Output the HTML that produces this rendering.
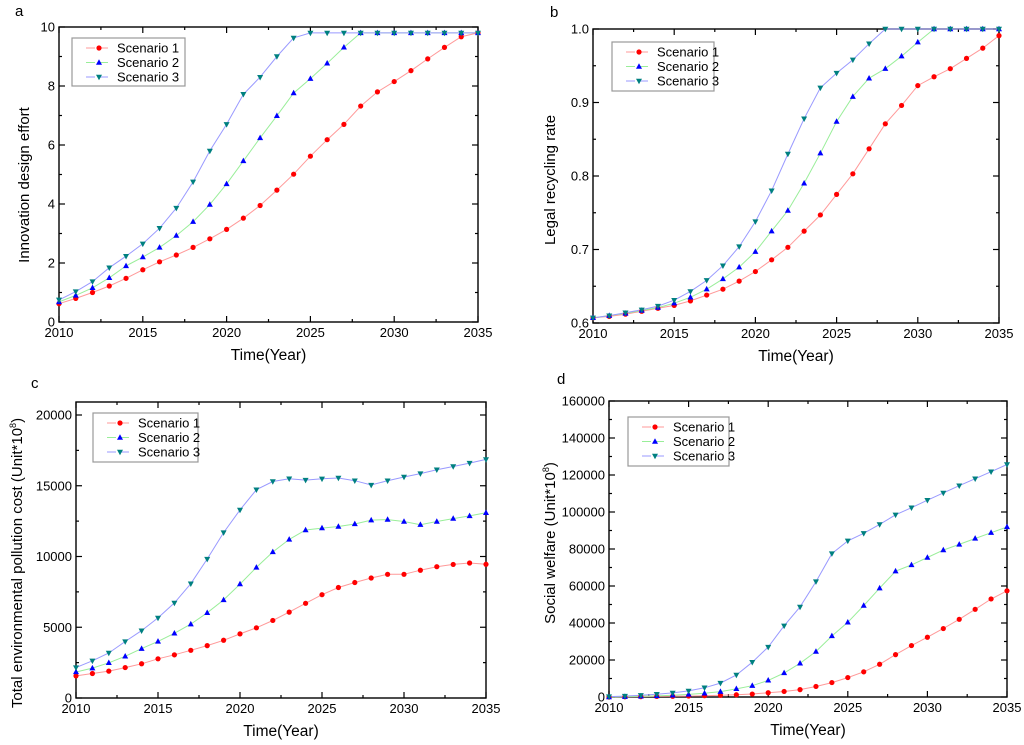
<!DOCTYPE html>
<html><head><meta charset="utf-8"><style>
html,body{margin:0;padding:0;background:#fff;}
svg{display:block;font-family:"Liberation Sans",Arial,sans-serif;}
</style></head><body>
<svg id="chart" width="1024" height="745" viewBox="0 0 1024 745"></svg>
<script>
const years = [2010,2011,2012,2013,2014,2015,2016,2017,2018,2019,2020,2021,2022,2023,2024,2025,2026,2027,2028,2029,2030,2031,2032,2033,2034,2035];
const seriesNames = ["Scenario 1","Scenario 2","Scenario 3"];
const xTicks = [2010,2015,2020,2025,2030,2035];

const aS1 = [0.62,0.8,1.0,1.22,1.48,1.77,2.04,2.27,2.53,2.82,3.14,3.52,3.95,4.47,5.01,5.62,6.18,6.7,7.32,7.8,8.15,8.52,8.92,9.31,9.67,9.8];
const aS2 = [0.68,0.9,1.16,1.5,1.9,2.2,2.53,2.93,3.4,3.98,4.68,5.46,6.24,6.99,7.76,8.25,8.77,9.31,9.8,9.8,9.8,9.8,9.8,9.8,9.8,9.8];
const aS3 = [0.75,1.03,1.37,1.84,2.23,2.65,3.18,3.86,4.75,5.8,6.7,7.72,8.3,9.0,9.63,9.8,9.8,9.8,9.8,9.8,9.8,9.8,9.8,9.8,9.8,9.8];
const aTicks = [0,2,4,6,8,10];

const bS1 = [0.607,0.609,0.612,0.616,0.62,0.624,0.63,0.638,0.646,0.657,0.67,0.686,0.703,0.725,0.747,0.775,0.803,0.837,0.871,0.896,0.923,0.935,0.946,0.96,0.974,0.991];
const bS2 = [0.607,0.61,0.613,0.617,0.621,0.627,0.635,0.646,0.66,0.676,0.697,0.725,0.753,0.79,0.831,0.874,0.908,0.933,0.946,0.963,0.982,1.0,1.0,1.0,1.0,1.0];
const bS3 = [0.607,0.61,0.614,0.618,0.623,0.631,0.643,0.658,0.678,0.704,0.738,0.78,0.83,0.878,0.92,0.94,0.958,0.98,1.0,1.0,1.0,1.0,1.0,1.0,1.0,1.0];
const bTicks = ["0.6","0.7","0.8","0.9","1.0"];

const cS1 = [1560,1730,1900,2150,2420,2770,3050,3370,3700,4080,4530,4960,5480,6070,6690,7300,7810,8160,8480,8740,8740,9030,9280,9440,9540,9450];
const cS2 = [1840,2110,2490,2950,3490,4000,4570,5220,6020,6930,8050,9230,10320,11210,11870,12010,12120,12300,12570,12610,12470,12250,12470,12680,12870,13090];
const cS3 = [2150,2630,3180,3990,4760,5660,6720,8080,9820,11690,13290,14720,15300,15500,15400,15490,15550,15360,15050,15360,15620,15860,16130,16360,16600,16860];
const cTicks = [0,5000,10000,15000,20000];

const dS1 = [0,100,200,300,400,500,700,900,1200,1600,2300,3000,4000,5700,7800,10500,13600,17700,22900,27800,32300,37000,42000,47400,53000,57400];
const dS2 = [0,200,400,600,900,1400,2000,2900,4400,6100,9000,13000,18200,24600,33000,40400,49400,58800,68000,71400,75400,79400,82500,85700,88800,91900];
const dS3 = [200,500,900,1500,2200,3300,5000,7500,11900,18800,27000,38500,48700,62400,77500,84400,88500,93300,98500,102300,106400,110300,114200,118000,121800,125700];
const dTicks = [0,20000,40000,60000,80000,100000,120000,140000,160000];

const NS = "http://www.w3.org/2000/svg";
const svg = document.getElementById("chart");
function mk(tag, attrs, parent, text){
  const e = document.createElementNS(NS, tag);
  for (const k in attrs) e.setAttribute(k, attrs[k]);
  if (text !== undefined) e.textContent = text;
  (parent||svg).appendChild(e);
  return e;
}
const lineColors = ["#ff9999","#99ee99","#9999ff"];
const markColors = ["#ff0000","#0000ff","#008080"];

function marker(g, k, x, y){
  let m;
  if (k === 0) m = mk("circle",{cx:x,cy:y,r:2.6,fill:markColors[0]},g);
  else if (k === 1) m = mk("path",{d:`M${x},${y-3.3}L${x+3},${y+2.2}L${x-3},${y+2.2}Z`,fill:markColors[1]},g);
  else m = mk("path",{d:`M${x},${y+3.3}L${x+3},${y-2.2}L${x-3},${y-2.2}Z`,fill:markColors[2]},g);
  
  
}

function panel(p){
  const g = mk("g",{});
  
  
  const {L,R,T,B,yMin,yMax,yRef,yRefVal} = p;
  const yScale = v => B - (v - yMin) / (yRefVal - yMin) * (B - yRef);
  const xScale = v => L + (v - 2010) / 25 * (R - L);

  const lt = mk("text",{x:p.lx,y:p.ly,"font-size":15,fill:"#000"},g,p.letter);
  
  

  const tg = mk("g",{stroke:"#000","stroke-width":1.2},g);
  
  
  for (let yr = 2010; yr <= 2035; yr += 2.5){
    const x = xScale(yr), len = (yr % 5 === 0) ? 6 : 3;
    mk("line",{x1:x,y1:B,x2:x,y2:B-len},tg);
    mk("line",{x1:x,y1:T,x2:x,y2:T+len},tg);
  }
  const labelsG = mk("g",{"font-size":13,fill:"#000"},g);
  
  
  xTicks.forEach(t => mk("text",{x:xScale(t),y:B+15,"text-anchor":"middle"},labelsG,String(t)));
  const yl = mk("g",{"font-size":13,fill:"#000"},g);
  
  
  const ticks = p.ticks;
  for (let i = 0; i < ticks.length; i++){
    const v = parseFloat(ticks[i]);
    const y = yScale(v);
    mk("line",{x1:L,y1:y,x2:L+6,y2:y},tg);
    mk("line",{x1:R,y1:y,x2:R-6,y2:y},tg);
    mk("text",{x:L-4,y:y+4.5,"text-anchor":"end"},yl,String(ticks[i]));
    const ym = yScale(v + p.minor);
    if (ym > T + 1){
      mk("line",{x1:L,y1:ym,x2:L+3,y2:ym},tg);
      mk("line",{x1:R,y1:ym,x2:R-3,y2:ym},tg);
    }
  }
  const fr = mk("rect",{x:L,y:T,width:R-L,height:B-T,fill:"none",stroke:"#000","stroke-width":1.4},g);
  
  

  p.series.forEach((arr,k) => {
    const sg = mk("g",{},g);
    
    
    const pts = arr.map((v,i) => xScale(years[i]).toFixed(1) + "," + yScale(v).toFixed(1)).join(" ");
    mk("polyline",{points:pts,fill:"none",stroke:lineColors[k],"stroke-width":1},sg);
  });
  p.series.forEach((arr,k) => {
    const mg = mk("g",{},g);
    
    
    arr.forEach((v,i) => marker(mg,k,xScale(years[i]),yScale(v)));
  });

  const xt = mk("text",{x:(L+R)/2,y:B+38,"text-anchor":"middle","font-size":15.5,fill:"#000"},g,"Time(Year)");
  
  
  const ytg = mk("text",{transform:`translate(${p.ytx},${p.yty}) rotate(-90)`,"text-anchor":"middle","font-size":15,fill:"#000"},g);
  
  
  if (p.sup){
    ytg.appendChild(document.createTextNode(p.ytitle));
    mk("tspan",{"font-size":9,dy:-6},ytg,"8");
    mk("tspan",{dy:6},ytg,")");
  } else ytg.textContent = p.ytitle;

  const lg = mk("g",{},g);
  
  
  const [bx,by,bw,bh] = p.legend;
  mk("rect",{x:bx,y:by,width:bw,height:bh,fill:"#fff",stroke:"#999","stroke-width":1.2},lg);
  seriesNames.forEach((n,k) => {
    const ey = by + 10 + k*14.5;
    const eg = mk("g",{},lg);
    
    
    mk("line",{x1:bx+14,y1:ey,x2:bx+40,y2:ey,stroke:lineColors[k],"stroke-width":1,"stroke-dasharray":"9,4"},eg);
    marker(eg,k,bx+27,ey);
    mk("text",{x:bx+45,y:ey+4.5,"font-size":13,fill:"#000"},eg,n);
  });
}

panel({letter:"a",lx:15,ly:16,L:59,R:478,T:27,B:322,yMin:0,yMax:10,yRef:27,yRefVal:10,
  ticks:aTicks,minor:1,series:[aS1,aS2,aS3],ytx:29,yty:185,ytitle:"Innovation design effort",legend:[72,38,113,48]});
panel({letter:"b",lx:550,ly:17,L:593,R:999,T:29,B:323,yMin:0.6,yMax:1.0,yRef:29,yRefVal:1.0,
  ticks:bTicks,minor:0.05,series:[bS1,bS2,bS3],ytx:555,yty:180,ytitle:"Legal recycling rate",legend:[612,42,102,49]});
panel({letter:"c",lx:31,ly:388,L:76,R:486,T:402,B:698,yMin:0,yMax:21000,yRef:415,yRefVal:20000,
  ticks:cTicks,minor:2500,series:[cS1,cS2,cS3],ytx:22,yty:563,ytitle:"Total environmental pollution cost (Unit*10",sup:true,legend:[93,413,105,49]});
panel({letter:"d",lx:557,ly:384,L:609,R:1007,T:401,B:697,yMin:0,yMax:160000,yRef:401,yRefVal:160000,
  ticks:dTicks,minor:10000,series:[dS1,dS2,dS3],ytx:555,yty:543,ytitle:"Social welfare  (Unit*10",sup:true,legend:[628,417,101,49]});
</script>
</body></html>
